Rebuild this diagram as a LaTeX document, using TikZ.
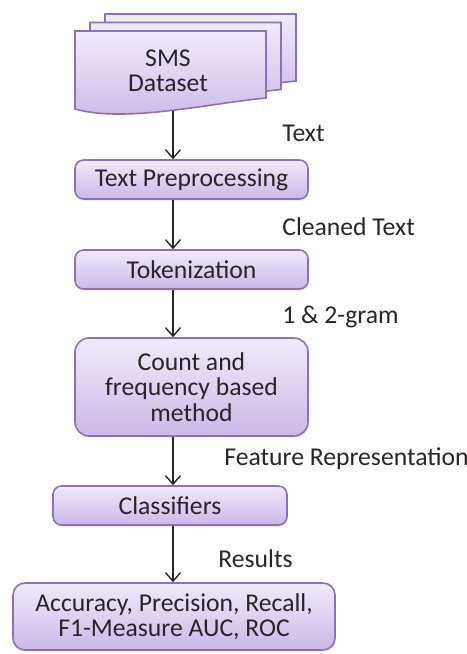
\documentclass[tikz,border=0pt]{standalone}
\usepackage{fontspec}
\setmainfont{Carlito}
\usepackage{tikz}
\usetikzlibrary{positioning,arrows.meta,calc,shadows}
\definecolor{boxline}{RGB}{142,112,186}
\definecolor{boxtop}{RGB}{240,235,250}
\definecolor{boxbot}{RGB}{203,184,232}
\definecolor{inktext}{RGB}{40,36,40}

\begin{document}
\begin{tikzpicture}[x=0.2mm, y=-0.2mm, >={Straight Barb[length=1.7mm,width=3mm]},
    every node/.style={font=\fontsize{14.6}{14.5}\selectfont, text=inktext, align=center},
    flowbox/.style={draw=boxline, line width=0.9pt, top color=boxtop, bottom color=boxbot,
      rounded corners=1.7mm, drop shadow={opacity=0.18, shadow xshift=0.4pt, shadow yshift=-0.9pt}},
    lbl/.style={anchor=west, inner sep=0pt},
    flow/.style={->, line width=0.8pt, black!85}]
  \useasboundingbox (0,0) rectangle (467,654);
  \def\bw{46.6mm}  \def\bh{7.8mm}

  % stacked document sheets, back to front
  \foreach \dx/\dy in {30/-17, 15/-8.5, 0/0} {
    \draw[boxline, line width=0.9pt, top color=boxtop, bottom color=boxbot, shift={(\dx,\dy)}]
      (75,31) -- (266,31) -- (266,98) .. controls (205,104) and (125,123) .. (75,109) -- cycle;
  }
  \node (sms) at (168,71) {SMS\\Dataset};
  \coordinate (dsb) at (173,111);
  \coordinate (ax) at (173,0);

  \node[flowbox, minimum width=\bw, minimum height=\bh] (prep)
      at (191.5,179.5) {Text Preprocessing};

  \node[flowbox, minimum width=\bw, minimum height=\bh] (tok)
      at ($(prep)+(0,90)$) {Tokenization};

  \node[flowbox, rounded corners=2.8mm, minimum width=\bw, minimum height=19.6mm] (cnt)
      at ($(tok)+(0,117.5)$) {Count and\\frequency based\\method};

  \node[flowbox, minimum width=46.8mm, minimum height=\bh] (cls)
      at ($(cnt)+(-21.5,118.5)$) {Classifiers};

  \node[flowbox, rounded corners=2.4mm, minimum width=64.4mm, minimum height=13.4mm] (res)
      at ($(cls)+(4,111)$) {Accuracy, Precision, Recall,\\F1-Measure AUC, ROC};

  \draw[flow] (dsb) -- (prep.north -| ax);
  \draw[flow] (prep.south -| ax) -- (tok.north -| ax);
  \draw[flow] (tok.south -| ax) -- (cnt.north -| ax);
  \draw[flow] (cnt.south -| ax) -- (cls.north -| ax);
  \draw[flow] (cls.south -| ax) -- (res.north -| ax);

  \node[lbl] (ltext) at (282,133) {Text};
  \node[lbl] (lclean) at (282,227) {Cleaned Text};
  \node[lbl] (lgram) at (282,317) {1 \& 2-gram};
  \node[lbl] (lfeat) at (224,459) {Feature Representation};
  \node[lbl] (lres) at (218,559) {Results};
\end{tikzpicture}
\end{document}
